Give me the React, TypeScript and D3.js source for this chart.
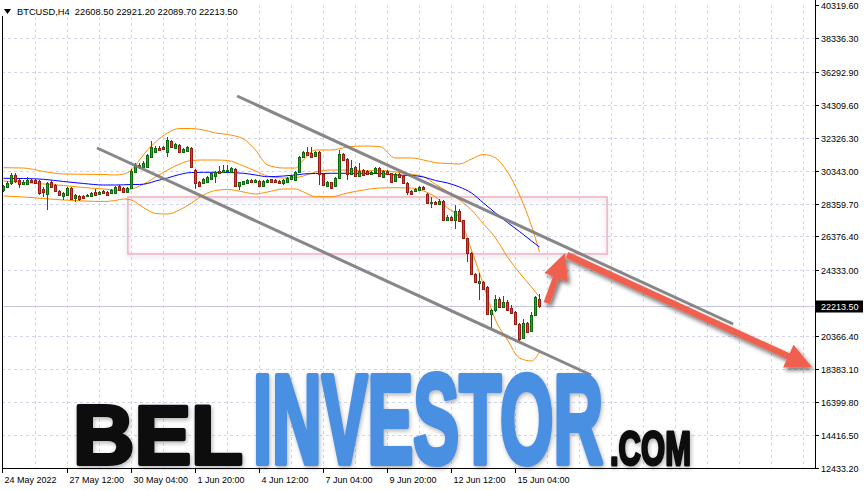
import React from 'react';
import * as d3 from 'd3';

// BTCUSD H4 candles (bar index 0 = 24 May 20:00)
const opens = [
  29177, 29376, 29599, 30081, 29780, 29539, 29539, 29780, 29780, 29737,
  29238, 28936, 29659, 29478, 29117, 28816, 28876, 29298, 28695, 28834,
  28834, 28786, 28816, 29075, 28954, 29099, 29075, 29015, 29015, 29418,
  29280, 29057, 29280, 30279, 30683, 30563, 30581, 31183, 31484, 31725,
  31749, 31484, 32129, 31689, 31888, 31484, 31544, 31689, 30382, 29677,
  29599, 29677, 29840, 30039, 30322, 30243, 30352, 30279, 30442, 29436,
  29521, 29581, 29780, 29677, 29737, 29436, 29677, 29810, 29780, 29737,
  29581, 29677, 29840, 29780, 30243, 31147, 31484, 31388, 31243, 31484,
  30123, 29436, 29641, 29436, 29882, 31327, 31044, 30123, 30544, 30039,
  30364, 30322, 30123, 30243, 30520, 29978, 30322, 30183, 29719, 30141,
  30020, 29617, 29117, 29117, 29177, 29340, 28936, 28412, 28473, 28334,
  28533, 27370, 27569, 27370, 27931, 27370, 26268, 25365, 24118, 23594,
  23654, 23317, 21709, 21950, 22612, 22112, 22450, 22088, 21811, 21106,
  20245, 21149, 20703, 21648, 22608.5,
];
const highs = [
  29478, 29719, 30219, 30201, 29840, 29780, 29978, 29840, 29840, 29780,
  29358, 29659, 29780, 29539, 29177, 29057, 29358, 29358, 28936, 28876,
  28876, 28936, 29057, 29238, 29117, 29177, 29117, 29238, 29418, 29478,
  29358, 29358, 30424, 30803, 30803, 30924, 31346, 32129, 31827, 31827,
  31827, 32388, 32189, 31978, 31948, 31707, 31827, 31767, 30442, 29737,
  29900, 30020, 30261, 30340, 30623, 30683, 30683, 30581, 30502, 29659,
  29737, 29840, 29810, 29840, 29780, 29780, 29840, 29840, 29810, 29780,
  29810, 29960, 30081, 30322, 31255, 31556, 31785, 31785, 31556, 31556,
  30201, 29719, 29689, 29960, 31587, 31388, 31105, 30984, 30593, 30803,
  30412, 30364, 30322, 30563, 30563, 30382, 30382, 30231, 30201, 30201,
  30081, 29659, 29177, 29298, 29388, 29388, 28997, 28774, 28515, 28605,
  28575, 27672, 27611, 28274, 28003, 27400, 26316, 25413, 24178, 24178,
  23726, 23365, 22010, 22853, 22703, 22793, 22522, 22251, 21889, 21167,
  21408, 21227, 21829, 22793, 22921.2,
];
const lows = [
  29057, 29298, 29478, 29599, 29298, 29478, 29478, 29599, 29539, 28876,
  28774, 27973, 29298, 29057, 28816, 28575, 28816, 28575, 28473, 28515,
  28635, 28756, 28756, 28816, 28876, 28936, 28816, 28997, 28997, 29117,
  28997, 28997, 29238, 30261, 30442, 30502, 30563, 31087, 31436, 31526,
  31587, 31183, 31707, 31647, 31406, 31448, 31496, 30502, 29238, 29388,
  29539, 29599, 29780, 29581, 30141, 30201, 30322, 30261, 29388, 29177,
  29478, 29539, 29641, 29641, 29400, 29400, 29641, 29659, 29641, 29569,
  29478, 29629, 29780, 29719, 30201, 31105, 31225, 31135, 31195, 29478,
  29418, 29388, 29268, 29388, 29840, 30924, 29780, 30081, 29990, 29990,
  30020, 30081, 30081, 30201, 29990, 29900, 30081, 29629, 29677, 29900,
  29539, 28876, 28876, 29057, 29147, 29177, 28364, 28075, 28274, 28274,
  27310, 27340, 27310, 26828, 27280, 26226, 24859, 24058, 23576, 22552,
  23154, 21648, 20866, 21829, 22100, 22070, 21889, 21739, 21046, 20101,
  20203, 20595, 20643, 21588, 22089.7,
];
const closes = [
  29418, 29617, 30081, 29737, 29539, 29659, 29780, 29689, 29617, 28979,
  29057, 29581, 29376, 29135, 28876, 28997, 29298, 28635, 28876, 28635,
  28695, 28876, 29015, 28876, 29075, 28979, 28876, 29177, 29376, 29177,
  29057, 29316, 30340, 30683, 30563, 30822, 31285, 31785, 31707, 31587,
  31629, 32189, 31749, 31930, 31448, 31647, 31767, 30563, 29581, 29436,
  29840, 29978, 30183, 30279, 30183, 30382, 30382, 30484, 29436, 29641,
  29719, 29780, 29677, 29780, 29436, 29719, 29780, 29689, 29677, 29617,
  29780, 29900, 30020, 30243, 31183, 31484, 31285, 31183, 31484, 30123,
  29478, 29677, 29316, 29918, 31327, 30984, 30123, 30520, 30039, 30322,
  30081, 30123, 30279, 30520, 30039, 30322, 30123, 29677, 30123, 29942,
  29581, 29039, 28936, 29238, 29340, 29220, 28412, 28473, 28334, 28533,
  27370, 27569, 27370, 27931, 27328, 26268, 25365, 24118, 23618, 23714,
  23196, 21709, 21950, 22612, 22148, 22450, 21950, 21787, 21106, 20185,
  21149, 20643, 21648, 22715, 22213.5,
];

// indicator readings (Bollinger bands, blue moving average) at sampled bars
const bandBars = [0, 5, 10, 15, 20, 25, 28, 30, 32, 34, 36, 38, 41, 44, 47, 50, 53, 56, 60, 63, 66, 70, 73, 75, 78, 82, 86, 90, 94, 98, 102, 105, 108, 111, 114, 117, 120, 123, 126, 129, 132, 134];
const upperBand = [30520, 30502, 30292, 30141, 30123, 30111, 30081, 30141, 30382, 30984, 31587, 32068, 32610, 32881, 32881, 32791, 32610, 32520, 32249, 31587, 30683, 30502, 30502, 30984, 31587, 31587, 31767, 31827, 31797, 31105, 31105, 30984, 30822, 30773, 30743, 31044, 31316, 31105, 30261, 28876, 27009, 25443];
const midBand = [29719, 29629, 29539, 29448, 29328, 29238, 29177, 29177, 29238, 29418, 29659, 29960, 30382, 30743, 30954, 30984, 30984, 30954, 30623, 30322, 30020, 29900, 29930, 30020, 30261, 30382, 30382, 30322, 30352, 30261, 30123, 29978, 29521, 29087, 28575, 27973, 27130, 26286, 25142, 24178, 23335, 22733];
const lowerBand = [28816, 28756, 28665, 28575, 28515, 28485, 28545, 28635, 28575, 28274, 27973, 27762, 27732, 27973, 28394, 28876, 29147, 29207, 29057, 28936, 29057, 29238, 29238, 29057, 28774, 28774, 28997, 29177, 29298, 29316, 29298, 29117, 28756, 28093, 27491, 25563, 23455, 21347, 20143, 19059, 18878, 19420];
const maLine = [29882, 29870, 29822, 29689, 29569, 29478, 29478, 29490, 29509, 29509, 29569, 29719, 29900, 30111, 30231, 30243, 30243, 30231, 30183, 30081, 29978, 30020, 30081, 30141, 30171, 30183, 30183, 30183, 30171, 30081, 30051, 29960, 29750, 29599, 29358, 28997, 28394, 27792, 27220, 26678, 26106, 25744];

const priceTicks = [40319.6, 38336.3, 36292.9, 34309.6, 32326.3, 30343.0, 28359.7, 26376.4, 24333.0, 20366.4, 18383.1, 16399.8, 14416.5, 12433.2];
const timeLabels = ['24 May 2022', '27 May 12:00', '30 May 04:00', '1 Jun 20:00', '4 Jun 12:00', '7 Jun 04:00', '9 Jun 20:00', '12 Jun 12:00', '15 Jun 04:00'];
const timeLabelBars = [0, 16, 32, 48, 64, 80, 96, 112, 128];

const symbolHeader = 'BTCUSD,H4  22608.50 22921.20 22089.70 22213.50';
const lastPrice = 22213.5;

// drawings: [bar, price] pairs
const channelUpper = [[58.4, 34839], [182.4, 21107]];
const channelLower = [[23.4, 31707], [146.9, 18035]];
const zoneBox = [[31.1, 28756], [150.9, 25324]];
const arrowUp = [[135.8, 22371], [140.4, 25383]];
const arrowDown = [[140.9, 25262], [202.1, 18517]];

const W = 866;
const H = 491;
const axisX = 815;
const axisY = 468;

const x = d3.scaleLinear().domain([0, 200]).range([3.5, 803.5]);
const y = d3.scaleLinear().domain([12433.2, 40319.6]).range([468, 5]);

const font = '"Liberation Sans", Arial, sans-serif';

function arrowPath(p1: number[], p2: number[]) {
  const x1 = x(p1[0]), y1 = y(p1[1]), x2 = x(p2[0]), y2 = y(p2[1]);
  const len = Math.hypot(x2 - x1, y2 - y1);
  const ux = (x2 - x1) / len, uy = (y2 - y1) / len;
  const nx = -uy, ny = ux;
  const shaft = 3.2, headLen = 26, headHalf = 12.5;
  const bx = x2 - ux * headLen, by = y2 - uy * headLen;
  const pts = [
    [x1 + nx * shaft, y1 + ny * shaft],
    [bx + nx * shaft, by + ny * shaft],
    [bx + nx * headHalf, by + ny * headHalf],
    [x2, y2],
    [bx - nx * headHalf, by - ny * headHalf],
    [bx - nx * shaft, by - ny * shaft],
    [x1 - nx * shaft, y1 - ny * shaft],
  ];
  return 'M' + pts.map((p) => p[0].toFixed(1) + ',' + p[1].toFixed(1)).join('L') + 'Z';
}

const App = () => {
  const bandLine = (vals: number[]) =>
    d3
      .line<number>()
      .x((_, k) => x(bandBars[k]))
      .y((v) => y(v))
      .curve(d3.curveMonotoneX)(vals) || '';

  const vGrid = d3.range(1, 26).map((k) => x(k * 8));
  const px = (v: number) => Math.round(y(v)) + 0.5;

  return (
    <svg width={W} height={H} style={{ position: 'absolute', left: 0, top: 0, background: '#fff' }}>
      <defs>
        <filter id="shadow" x="-20%" y="-20%" width="140%" height="140%">
          <feDropShadow dx="2" dy="3" stdDeviation="2" floodColor="#000" floodOpacity="0.55" />
        </filter>
        <filter id="soft" x="-5%" y="-20%" width="110%" height="140%">
          <feDropShadow dx="0" dy="2" stdDeviation="2.5" floodColor="#888" floodOpacity="0.5" />
        </filter>
        <filter id="wm" x="-5%" y="-10%" width="110%" height="130%">
          <feDropShadow dx="1" dy="2" stdDeviation="2" floodColor="#555" floodOpacity="0.45" />
        </filter>
      </defs>

      {/* grid */}
      <g stroke="#d4d4ec" strokeWidth={1} strokeDasharray="3,3">
        {vGrid.map((gx, k) => (
          <line key={'v' + k} x1={gx} x2={gx} y1={5} y2={axisY} />
        ))}
        {priceTicks.slice(1, -1).map((t, k) => (
          <line key={'h' + k} x1={2} x2={axisX} y1={px(t)} y2={px(t)} />
        ))}
      </g>

      {/* bid line */}
      <line x1={2} x2={axisX} y1={px(lastPrice)} y2={px(lastPrice)} stroke="#c6c6e2" strokeWidth={1} />

      {/* zone rectangle */}
      <rect
        x={x(zoneBox[0][0])}
        y={y(zoneBox[0][1])}
        width={x(zoneBox[1][0]) - x(zoneBox[0][0])}
        height={y(zoneBox[1][1]) - y(zoneBox[0][1])}
        fill="none"
        stroke="#f2a6bb"
        strokeWidth={1.3}
        filter="url(#soft)"
      />

      {/* indicators */}
      <path d={bandLine(upperBand)} fill="none" stroke="#ff8c00" strokeWidth={1} />
      <path d={bandLine(midBand)} fill="none" stroke="#ff8c00" strokeWidth={1} />
      <path d={bandLine(lowerBand)} fill="none" stroke="#ff8c00" strokeWidth={1} />
      <path d={bandLine(maLine)} fill="none" stroke="#0000ff" strokeWidth={1} />

      {/* candles */}
      {opens.map((o, i) => {
        const c = closes[i];
        const up = c >= o;
        const cx = x(i);
        const top = Math.round(y(Math.max(o, c)));
        let bot = Math.round(y(Math.min(o, c)));
        if (bot - top < 1) bot = top + 1;
        const dark = up ? '#0b6a0b' : '#9a1a14';
        const fill = up ? '#27a327' : '#e63a30';
        return (
          <g key={'c' + i}>
            <line x1={cx} x2={cx} y1={Math.round(y(highs[i]))} y2={Math.round(y(lows[i]))} stroke={dark} strokeWidth={1} />
            <rect x={cx - 1} y={top + 0.5} width={2} height={bot - top} fill={fill} stroke={dark} strokeWidth={1} />
          </g>
        );
      })}

      {/* channel lines */}
      {[channelUpper, channelLower].map((ln, k) => (
        <line
          key={'ch' + k}
          x1={x(ln[0][0])}
          y1={y(ln[0][1])}
          x2={x(ln[1][0])}
          y2={y(ln[1][1])}
          stroke="#7a7a7a"
          strokeOpacity={0.9}
          strokeWidth={3}
        />
      ))}

      {/* arrows */}
      <g filter="url(#shadow)" fill="#f0604f">
        <path d={arrowPath(arrowDown[0], arrowDown[1])} />
        <path d={arrowPath(arrowUp[0], arrowUp[1])} />
      </g>

      {/* watermark */}
      <g filter="url(#wm)" fontFamily={font} fontWeight="bold" style={{ paintOrder: 'stroke' }}>
        <text x={73} y={464} fontSize={83} textLength={170} lengthAdjust="spacingAndGlyphs" fill="#111" stroke="#111" strokeWidth={4} strokeLinejoin="round">
          BEL
        </text>
        <text x={253} y={463} fontSize={127} textLength={350} lengthAdjust="spacingAndGlyphs" fill="#4a8fe2" stroke="#4a8fe2" strokeWidth={6} strokeLinejoin="round">
          INVESTOR
        </text>
        <text x={610} y={464.5} fontSize={49} textLength={81} lengthAdjust="spacingAndGlyphs" fill="#111" stroke="#111" strokeWidth={3} strokeLinejoin="round">
          .COM
        </text>
      </g>

      {/* header */}
      <rect x={0} y={0} width={245} height={16} fill="#fff" />
      <path d="M4,9 L11,9 L7.5,14 Z" fill="#000" />
      <text x={17} y={15} fontFamily={font} fontSize={9.3} fill="#000" style={{ whiteSpace: 'pre' }}>
        {symbolHeader}
      </text>

      {/* frame */}
      <line x1={2.5} x2={2.5} y1={16} y2={axisY + 0.5} stroke="#000" />
      <line x1={axisX + 0.5} x2={axisX + 0.5} y1={0} y2={axisY + 0.5} stroke="#000" />
      <line x1={2} x2={axisX + 1} y1={axisY + 0.5} y2={axisY + 0.5} stroke="#000" />

      {/* price axis */}
      {priceTicks.map((t, k) => (
        <g key={'pt' + k}>
          <line x1={axisX} x2={axisX + 4} y1={px(t)} y2={px(t)} stroke="#000" />
          <text x={axisX + 6} y={px(t)} dy="0.35em" fontFamily={font} fontSize={9} fill="#000">
            {t.toFixed(2)}
          </text>
        </g>
      ))}
      <rect x={axisX + 1} y={px(lastPrice) - 6} width={47} height={12} fill="#000" />
      <text x={axisX + 6} y={px(lastPrice)} dy="0.35em" fontFamily={font} fontSize={9} fill="#fff">
        {lastPrice.toFixed(2)}
      </text>

      {/* time axis */}
      {timeLabelBars.map((b, k) => {
        const tx = k === 0 ? 2.5 : Math.round(x(b)) - 0.5;
        return (
          <g key={'tl' + k}>
            <line x1={tx} x2={tx} y1={axisY} y2={axisY + 5} stroke="#000" />
            <text x={tx + 2} y={482.5} fontFamily={font} fontSize={9} fill="#000">
              {timeLabels[k]}
            </text>
          </g>
        );
      })}
    </svg>
  );
};

export default App;
